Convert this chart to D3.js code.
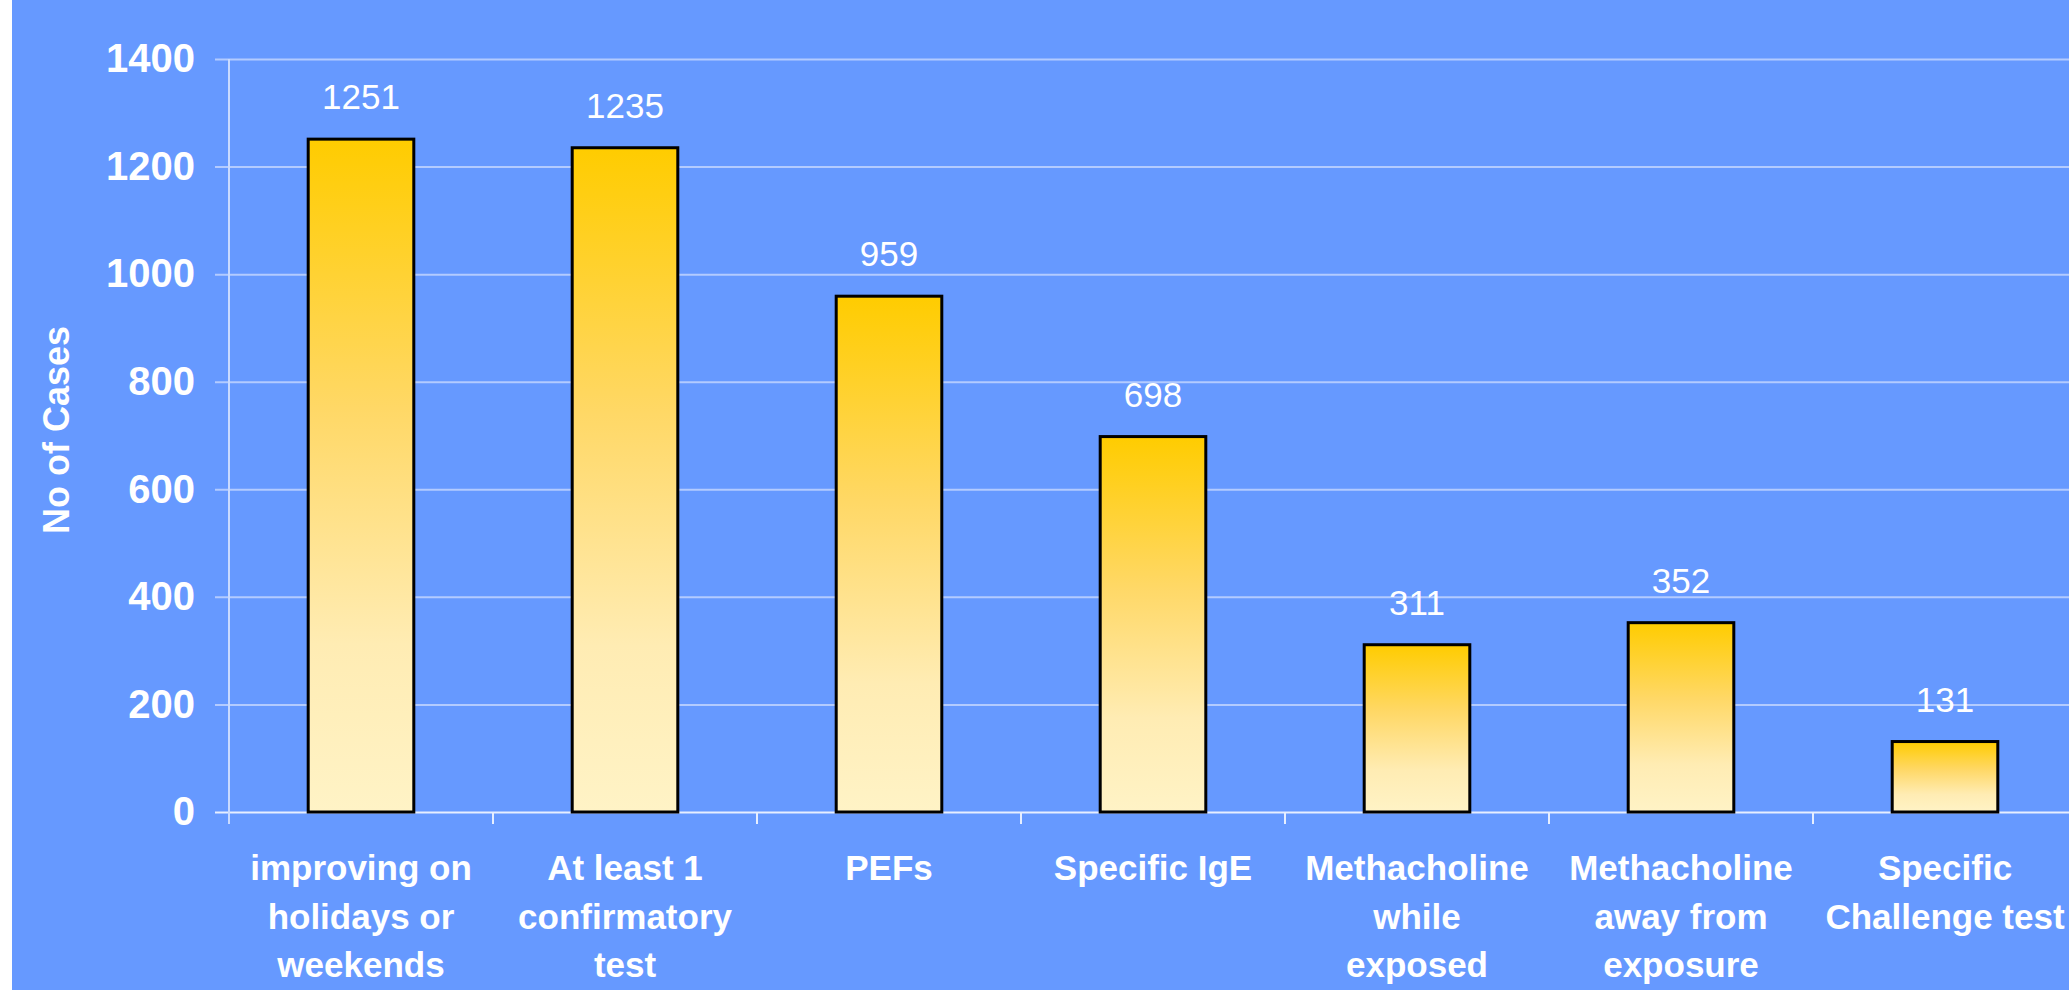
<!DOCTYPE html>
<html>
<head>
<meta charset="utf-8">
<script src="https://cdn.jsdelivr.net/npm/d3@7"></script>
<style>
  body { margin: 0; background: #fff; }
  svg { display: block; }
</style>
</head>
<body>
<svg id="chart" width="2069" height="990"></svg>
<script>
// chart data
const categories = ['improving on holidays or weekends', 'At least 1 confirmatory test', 'PEFs',
  'Specific IgE', 'Methacholine while exposed', 'Methacholine away from exposure', 'Specific Challenge test'];
// how each category label wraps
const labelLines = [
  ['improving on', 'holidays or', 'weekends'],
  ['At least 1', 'confirmatory', 'test'],
  ['PEFs'],
  ['Specific IgE'],
  ['Methacholine', 'while', 'exposed'],
  ['Methacholine', 'away from', 'exposure'],
  ['Specific', 'Challenge test']
];
const cases = [1251, 1235, 959, 698, 311, 352, 131];
const yTicks = [0, 200, 400, 600, 800, 1000, 1200, 1400];

const W = 2069, H = 990;
const plotLeft = 229, plotTop = 59, plotBottom = 812;
const step = 264;

const svg = d3.select('#chart');
const font = '"Liberation Sans", Arial, Helvetica, sans-serif';

// blue panel
svg.append('rect').attr('x', 12).attr('y', 0).attr('width', W - 12).attr('height', H).attr('fill', '#6699FF');

// gradient for bars (per bar, top yellow -> cream)
const grad = svg.append('defs').append('linearGradient')
  .attr('id', 'barGrad').attr('x1', 0).attr('y1', 0).attr('x2', 0).attr('y2', 1);
grad.append('stop').attr('offset', '0%').attr('stop-color', '#FFCC00');
grad.append('stop').attr('offset', '40%').attr('stop-color', '#FFD866');
grad.append('stop').attr('offset', '75%').attr('stop-color', '#FFECB3');
grad.append('stop').attr('offset', '100%').attr('stop-color', '#FFF3C6');

const y = d3.scaleLinear().domain([0, 1400]).range([plotBottom, plotTop]);
const x = d3.scaleBand().domain(categories)
  .range([plotLeft, plotLeft + step * categories.length])
  .paddingInner(0.6).paddingOuter(0.3);

// gridlines + y axis
const yAxis = d3.axisLeft(y).tickValues(yTicks).tickSize(-(W - 215)).tickPadding(20).tickFormat(d3.format('d'));
const gy = svg.append('g').attr('transform', `translate(215,0)`).call(yAxis);
gy.select('.domain').remove();
gy.selectAll('.tick line')
  .attr('x1', 0).attr('x2', W - 215)
  .attr('stroke', d => d === 0 ? '#E6EEFF' : '#B3CBFF').attr('stroke-width', 2);
gy.selectAll('.tick text')
  .attr('x', -20)
  .attr('fill', '#fff').attr('font-family', font).attr('font-size', 40).attr('font-weight', 'bold');

// vertical axis line
svg.append('line').attr('x1', plotLeft).attr('x2', plotLeft).attr('y1', plotTop).attr('y2', plotBottom + 12)
  .attr('stroke', '#C9DAFF').attr('stroke-width', 2);

// category ticks
svg.append('g').selectAll('line').data(d3.range(1, categories.length + 1)).join('line')
  .attr('x1', i => plotLeft + i * step).attr('x2', i => plotLeft + i * step)
  .attr('y1', plotBottom).attr('y2', plotBottom + 12)
  .attr('stroke', '#E6EEFF').attr('stroke-width', 2);

// bars
svg.append('g').selectAll('rect').data(cases).join('rect')
  .attr('x', (d, i) => x(categories[i]))
  .attr('y', d => y(d))
  .attr('width', x.bandwidth())
  .attr('height', d => y(0) - y(d))
  .attr('fill', 'url(#barGrad)')
  .attr('stroke', '#000').attr('stroke-width', 3);

// value labels
svg.append('g').selectAll('text').data(cases).join('text')
  .attr('x', (d, i) => x(categories[i]) + x.bandwidth() / 2)
  .attr('y', d => y(d) - 30)
  .attr('text-anchor', 'middle')
  .attr('fill', '#fff').attr('font-family', font).attr('font-size', 35)
  .text(d => d);

// category labels
const cl = svg.append('g').selectAll('text').data(labelLines).join('text')
  .attr('x', (d, i) => x(categories[i]) + x.bandwidth() / 2)
  .attr('y', 880)
  .attr('text-anchor', 'middle')
  .attr('fill', '#fff').attr('font-family', font).attr('font-size', 35).attr('font-weight', 'bold');
cl.selectAll('tspan').data(d => d).join('tspan')
  .attr('x', function () { return d3.select(this.parentNode).attr('x'); })
  .attr('dy', (d, i) => i === 0 ? 0 : 48.5)
  .text(d => d);

// y axis title
svg.append('text')
  .attr('transform', 'translate(56,430) rotate(-90)')
  .attr('text-anchor', 'middle').attr('dominant-baseline', 'central')
  .attr('fill', '#fff').attr('font-family', font).attr('font-size', 36).attr('font-weight', 'bold')
  .text('No of Cases');
</script>
</body>
</html>
